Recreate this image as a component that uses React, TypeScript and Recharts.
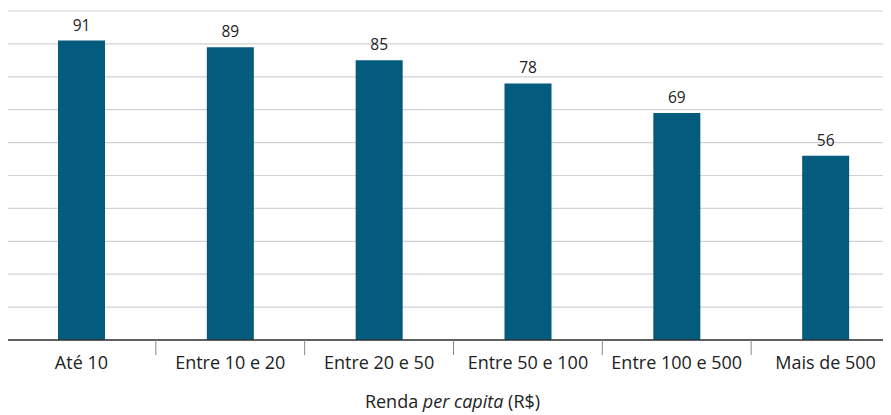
import React from "react";
import { BarChart, Bar, XAxis, YAxis, CartesianGrid, LabelList } from "recharts";

const categories = ["Até 10", "Entre 10 e 20", "Entre 20 e 50", "Entre 50 e 100", "Entre 100 e 500", "Mais de 500"];
const values = [91, 89, 85, 78, 69, 56];
const yTicks = [0, 10, 20, 30, 40, 50, 60, 70, 80, 90, 100];

const data = categories.map((c, i) => ({ name: c, value: values[i] }));

const FONT = "'Open Sans', 'Noto Sans', sans-serif";
const CHART_W = 900;
const LEFT = 7;
const BAND = (CHART_W - LEFT) / categories.length;

const XTick = (props: any) => {
  const { x, y, payload, index } = props;
  const bx = x - BAND / 2;
  return (
    <g>
      <line x1={bx} x2={bx} y1={y} y2={y + 15} stroke={index === 0 ? "#333" : "#888"} strokeWidth={1} />
      <text x={x} y={y + 29} textAnchor="middle" fontFamily={FONT} fontSize={18} fill="#222">
        {payload.value}
      </text>
    </g>
  );
};

const EmptyTick = () => <g />;

export default function App() {
  return (
    <div style={{ margin: "-8px 0 0 -8px", width: 891, height: 415, overflow: "hidden", background: "#fff", position: "relative" }}>
      <BarChart
        width={CHART_W}
        height={415}
        data={data}
        margin={{ top: 11, right: 0, left: LEFT, bottom: 45 }}
        barCategoryGap={0}
      >
        <CartesianGrid vertical={false} stroke="#d2d2d2" strokeWidth={1.2} />
        <YAxis
          width={0}
          domain={[0, 100]}
          ticks={yTicks}
          tick={<EmptyTick />}
          tickLine={false}
          axisLine={{ stroke: "#c8c8c8" }}
        />
        <XAxis
          dataKey="name"
          height={30}
          tickLine={false}
          tickSize={0}
          tickMargin={0}
          axisLine={{ stroke: "#333", strokeWidth: 1.5 }}
          tick={<XTick />}
          interval={0}
        />
        <Bar dataKey="value" fill="#035b7e" barSize={47} isAnimationActive={false}>
          <LabelList
            dataKey="value"
            position="top"
            offset={10}
            fontFamily={FONT}
            fontSize={15.5}
            fill="#222"
          />
        </Bar>
      </BarChart>
      <div
        style={{
          position: "absolute",
          left: 14,
          width: 877,
          top: 392,
          textAlign: "center",
          fontFamily: FONT,
          fontSize: 18,
          color: "#222",
          lineHeight: "18px",
        }}
      >
        Renda <i>per capita</i> (R$)
      </div>
    </div>
  );
}
